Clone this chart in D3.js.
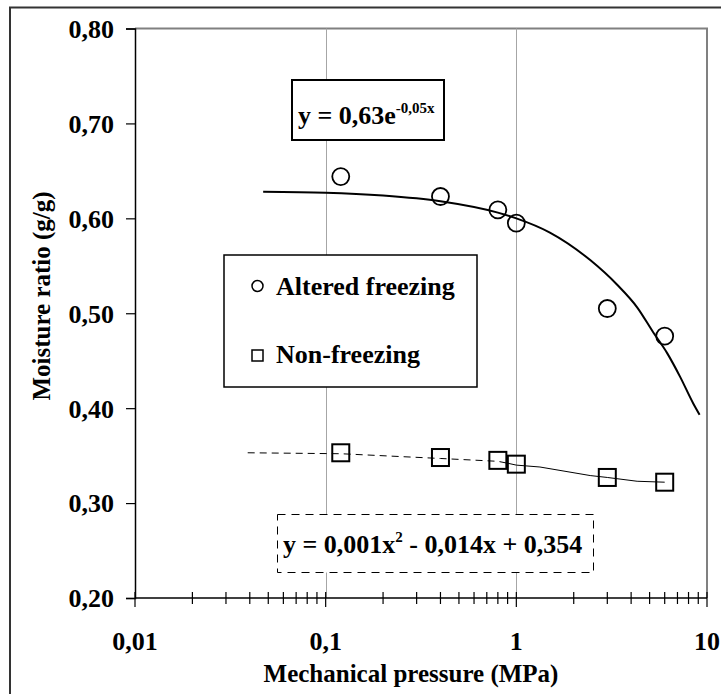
<!DOCTYPE html>
<html><head><meta charset="utf-8">
<script src="https://cdn.jsdelivr.net/npm/d3@7"></script>
<style>body{margin:0;background:#fff}svg{display:block}text{font-family:"Liberation Serif","Times New Roman",serif;font-weight:bold;fill:#000}</style>
</head><body><svg id="c" width="721" height="694"></svg>
<script>
// data
const pressure = [0.12, 0.4, 0.8, 1.0, 3.0, 6.0];
const altered = [0.644, 0.623, 0.609, 0.595, 0.505, 0.476];
const nonFreezing = [0.353, 0.348, 0.345, 0.341, 0.327, 0.322];
const alteredTrendX = [0.047, 0.1, 0.2, 0.4, 0.8, 1.0, 1.5, 2.44, 3.38, 4.31, 5.22, 6.18, 7.23, 8.47, 9.15];
const alteredTrendY = [0.628, 0.627, 0.624, 0.618, 0.606, 0.600, 0.585, 0.556, 0.530, 0.506, 0.480, 0.458, 0.433, 0.405, 0.393];
const nonTrendDashX = [0.039, 0.12, 0.4, 0.8, 0.9];
const nonTrendDashY = [0.353, 0.352, 0.347, 0.344, 0.342];
const nonTrendSolidX = [0.9, 1.0, 1.33, 2.44, 3.0, 4.3, 6.0];
const nonTrendSolidY = [0.342, 0.340, 0.338, 0.329, 0.327, 0.323, 0.322];
const yTicks = [0.2, 0.3, 0.4, 0.5, 0.6, 0.7, 0.8];
const xMajor = [0.01, 0.1, 1, 10];
const xLabels = ["0,01", "0,1", "1", "10"];
const seriesNames = ["Altered freezing", "Non-freezing"];

const svg = d3.select("#c");
const x = d3.scaleLog().domain([0.01, 10]).range([135, 707]);
const y = d3.scaleLinear().domain([0.2, 0.8]).range([598, 28.5]);
const FS = 26;

// outer chart frame (right/bottom edges fall outside the picture)
svg.append("path").attr("d", "M10,700V7.5H730")
  .attr("fill", "none").attr("stroke", "#333").attr("stroke-width", 2);

// plot border (gray top/right)
svg.append("path").attr("d", `M${x(0.01)},${y(0.8)}H${x(10)}V${y(0.2)}`)
  .attr("fill", "none").attr("stroke", "#808080").attr("stroke-width", 2);
// gridlines
svg.selectAll(".grid").data([0.1, 1]).join("line")
  .attr("x1", d => Math.round(x(d)) + 0.5).attr("x2", d => Math.round(x(d)) + 0.5).attr("y1", y(0.8)).attr("y2", y(0.2))
  .attr("stroke", "#a6a6a6").attr("stroke-width", 1);

// y axis
const yAxis = d3.axisLeft(y).tickValues(yTicks).tickSize(9).tickFormat(d => d3.format(".2f")(d).replace(".", ","));
const gy = svg.append("g").attr("transform", `translate(${x(0.01)},0)`).call(yAxis);
gy.select(".domain").attr("stroke", "#000").attr("stroke-width", 1.5);
gy.selectAll(".tick line").attr("stroke", "#000").attr("stroke-width", 1.2);
gy.selectAll(".tick text").attr("x", -21).attr("dy", "0.34em")
  .style("font-size", FS + "px").style("font-family", "'Liberation Serif',serif").style("font-weight", "bold").attr("fill", "#000");

// x axis
const minor = [];
[0.01, 0.1, 1].forEach(d => { for (let k = 2; k <= 9; k++) minor.push(d * k); });
const gx = svg.append("g");
gx.append("line").attr("x1", x(0.01)).attr("x2", x(10)).attr("y1", y(0.2)).attr("y2", y(0.2))
  .attr("stroke", "#000").attr("stroke-width", 1.5);
gx.selectAll(".mt").data(minor).join("line")
  .attr("x1", d => x(d)).attr("x2", d => x(d)).attr("y1", y(0.2) - 6).attr("y2", y(0.2) + 6)
  .attr("stroke", "#000").attr("stroke-width", 1.2);
gx.selectAll(".Mt").data(xMajor).join("line")
  .attr("x1", d => x(d)).attr("x2", d => x(d)).attr("y1", y(0.2) - 6).attr("y2", y(0.2) + 9)
  .attr("stroke", "#000").attr("stroke-width", 1.2);
gx.selectAll(".xl").data(xMajor).join("text")
  .attr("x", d => x(d)).attr("y", 650).attr("text-anchor", "middle").attr("font-size", FS)
  .text((d, i) => xLabels[i]);

svg.append("text").attr("x", 411).attr("y", 682).attr("text-anchor", "middle").attr("font-size", 25)
  .text("Mechanical pressure (MPa)");
svg.append("text").attr("transform", "translate(50,296) rotate(-90)").attr("text-anchor", "middle").attr("font-size", 25)
  .text("Moisture ratio (g/g)");

// trend lines
const line = d3.line().x(d => x(d[0])).y(d => y(d[1]));
svg.append("path").datum(d3.zip(alteredTrendX, alteredTrendY)).attr("d", line.curve(d3.curveMonotoneX))
  .attr("fill", "none").attr("stroke", "#000").attr("stroke-width", 2);
const line2 = d3.line().x(d => x(d[0])).y(d => y(d[1]));
svg.append("path").datum(d3.zip(nonTrendDashX, nonTrendDashY)).attr("d", line2)
  .attr("fill", "none").attr("stroke", "#000").attr("stroke-width", 1).attr("stroke-dasharray", "7,5");
svg.append("path").datum(d3.zip(nonTrendSolidX, nonTrendSolidY)).attr("d", line2)
  .attr("fill", "none").attr("stroke", "#000").attr("stroke-width", 1);

// markers
svg.selectAll(".circ").data(d3.zip(pressure, altered)).join("circle")
  .attr("cx", d => x(d[0])).attr("cy", d => y(d[1])).attr("r", 8.5)
  .attr("fill", "none").attr("stroke", "#000").attr("stroke-width", 1.8);
svg.selectAll(".sq").data(d3.zip(pressure, nonFreezing)).join("rect")
  .attr("x", d => x(d[0]) - 8.5).attr("y", d => y(d[1]) - 8.5).attr("width", 17).attr("height", 17)
  .attr("fill", "none").attr("stroke", "#000").attr("stroke-width", 2);

// equation box 1
svg.append("rect").attr("x", 292).attr("y", 80).attr("width", 152).attr("height", 60)
  .attr("fill", "#fff").attr("stroke", "#000").attr("stroke-width", 2);
const e1 = svg.append("text").attr("x", 298).attr("y", 124).attr("font-size", FS);
e1.append("tspan").text("y = 0,63e");
e1.append("tspan").attr("font-size", 15).attr("dy", -11).text("-0,05x");

// legend
svg.append("rect").attr("x", 224).attr("y", 255).attr("width", 253).attr("height", 132)
  .attr("fill", "#fff").attr("stroke", "#000").attr("stroke-width", 1.5);
svg.append("circle").attr("cx", 257.5).attr("cy", 286).attr("r", 5.5).attr("fill", "none").attr("stroke", "#000").attr("stroke-width", 1.5);
svg.append("rect").attr("x", 252).attr("y", 350).attr("width", 11).attr("height", 11).attr("fill", "none").attr("stroke", "#000").attr("stroke-width", 1.5);
svg.append("text").attr("x", 276).attr("y", 295).attr("font-size", FS).text(seriesNames[0]);
svg.append("text").attr("x", 276).attr("y", 363).attr("font-size", FS).text(seriesNames[1]);

// equation box 2
svg.append("rect").attr("x", 277.5).attr("y", 514.5).attr("width", 316).attr("height", 58)
  .attr("fill", "#fff").attr("stroke", "#000").attr("stroke-width", 1).attr("stroke-dasharray", "8,6");
const e2 = svg.append("text").attr("x", 283).attr("y", 553).attr("font-size", FS);
e2.append("tspan").text("y = 0,001x");
e2.append("tspan").attr("font-size", 15).attr("dy", -11).text("2");
e2.append("tspan").attr("dy", 11).text(" - 0,014x + 0,354");
</script></body></html>
